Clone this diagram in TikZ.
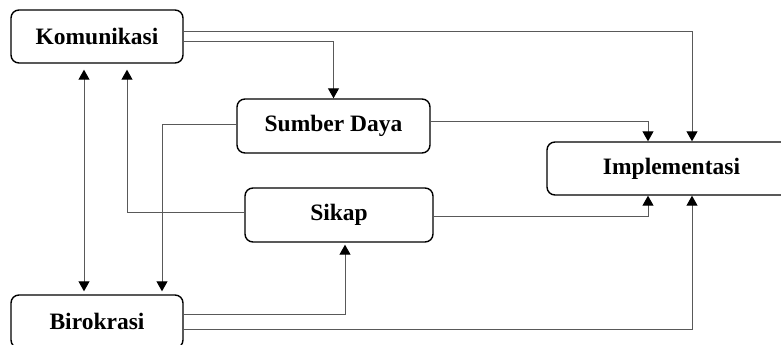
\documentclass[tikz,border=0pt]{standalone}
\usepackage{fontspec}
\setmainfont{Liberation Serif}
\usetikzlibrary{arrows.meta}

\begin{document}
\begin{tikzpicture}[x=1pt,y=-1pt,
    every node/.style={draw=black,line width=1.4pt,rounded corners=8pt,align=center,
        font=\fontsize{23.5}{28}\selectfont\bfseries,inner sep=0pt},
    tip/.style={-{Triangle[width=11pt,length=10pt,color=black]}},
    link/.style={draw=black!65,line width=1pt,tip},
    dlink/.style={link,{Triangle[width=11pt,length=10pt,color=black]}-{Triangle[width=11pt,length=10pt,color=black]}}]

    \useasboundingbox (0,0) rectangle (781,345);

    \node[minimum width=172pt,minimum height=53pt] (kom) at (97,36.5) {Komunikasi};
    \node[minimum width=193pt,minimum height=54pt] (sd) at (333.5,126) {Sumber Daya};
    \node[minimum width=188pt,minimum height=54pt] (sik) at (339,215) {Sikap};
    \node[minimum width=249pt,minimum height=53pt] (imp) at (671.5,168.5) {Implementasi};
    \node[minimum width=172pt,minimum height=53pt] (bir) at (97,321.5) {Birokrasi};

    % dari komunikasi
    \draw[link] ([yshift=4.5pt]kom.east) -| ([xshift=20.5pt]imp.north);
    \draw[link] ([yshift=-5.5pt]kom.east) -| (sd.north);
    \draw[dlink,shorten <=6pt,shorten >=3pt] ([xshift=-13pt]kom.south) -- ([xshift=-13pt]bir.north);

    % dari sumber daya
    \draw[link] ([yshift=5pt]sd.east) -| ([xshift=-23.5pt]imp.north);
    \draw[link,shorten >=3pt] ([yshift=2pt]sd.west) -| ([xshift=65pt]bir.north);

    % dari sikap
    \draw[link,shorten >=6pt] ([yshift=3pt]sik.west) -| ([xshift=30pt]kom.south);
    \draw[link] ([yshift=-1pt]sik.east) -| ([xshift=-23.5pt]imp.south);

    % dari birokrasi
    \draw[link,shorten >=2pt] ([yshift=7.5pt]bir.east) -| ([xshift=6pt]sik.south);
    \draw[link] ([yshift=-7.5pt]bir.east) -| ([xshift=20.5pt]imp.south);

\end{tikzpicture}
\end{document}
